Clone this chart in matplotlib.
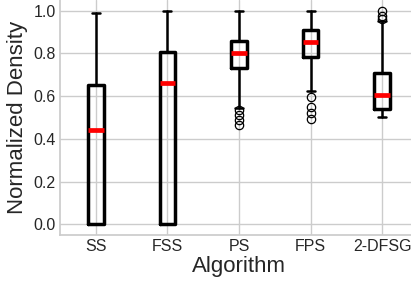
import matplotlib
matplotlib.use("Agg")
import matplotlib.pyplot as plt
import seaborn as sns

sns.set_theme(style="whitegrid")
plt.rcParams['font.family'] = ['Liberation Sans', 'DejaVu Sans']

categories = ["SS", "FSS", "PS", "FPS", "2-DFSG"]
whislo = [0.0, 0.0, 0.545, 0.623, 0.501]
q1 = [0.0, 0.0, 0.73, 0.782, 0.541]
med = [0.44, 0.663, 0.80, 0.852, 0.604]
q3 = [0.65, 0.808, 0.86, 0.908, 0.709]
whishi = [0.99, 1.0, 1.0, 1.0, 0.953]
fliers = [
    [],
    [],
    [0.535, 0.51, 0.486, 0.463],
    [0.598, 0.551, 0.522, 0.494],
    [1.0, 0.977, 0.961],
]

stats = []
for i, c in enumerate(categories):
    stats.append(dict(label=c, whislo=whislo[i], q1=q1[i], med=med[i],
                      q3=q3[i], whishi=whishi[i], fliers=fliers[i]))

fig = plt.figure(figsize=(4.11, 2.81), dpi=100)
ax = fig.add_axes([60/411, 46/281, 358/411, 235/281])

ax.bxp(stats, positions=range(1, len(categories) + 1), widths=0.22,
       boxprops=dict(color='black', linewidth=2.5),
       medianprops=dict(color='red', linewidth=3.4),
       whiskerprops=dict(color='black', linewidth=1.8),
       capprops=dict(color='black', linewidth=1.8),
       flierprops=dict(marker='o', markerfacecolor='none', markeredgecolor='black',
                       markersize=6, markeredgewidth=0.9))

ax.set_xlim(0.5, 5.5)
ax.set_ylim(-0.05, 1.05)
ax.set_yticks([0.0, 0.2, 0.4, 0.6, 0.8, 1.0])
ax.set_xlabel("Algorithm", fontsize=16, color='#262626', labelpad=1)
ax.set_ylabel("Normalized Density", fontsize=16, color='#262626', labelpad=4)
ax.tick_params(axis='both', labelsize=11.5, colors='#262626', length=0, pad=3)
for s in ['top', 'right']:
    ax.spines[s].set_visible(False)

fig.savefig("out.png", dpi=100)
